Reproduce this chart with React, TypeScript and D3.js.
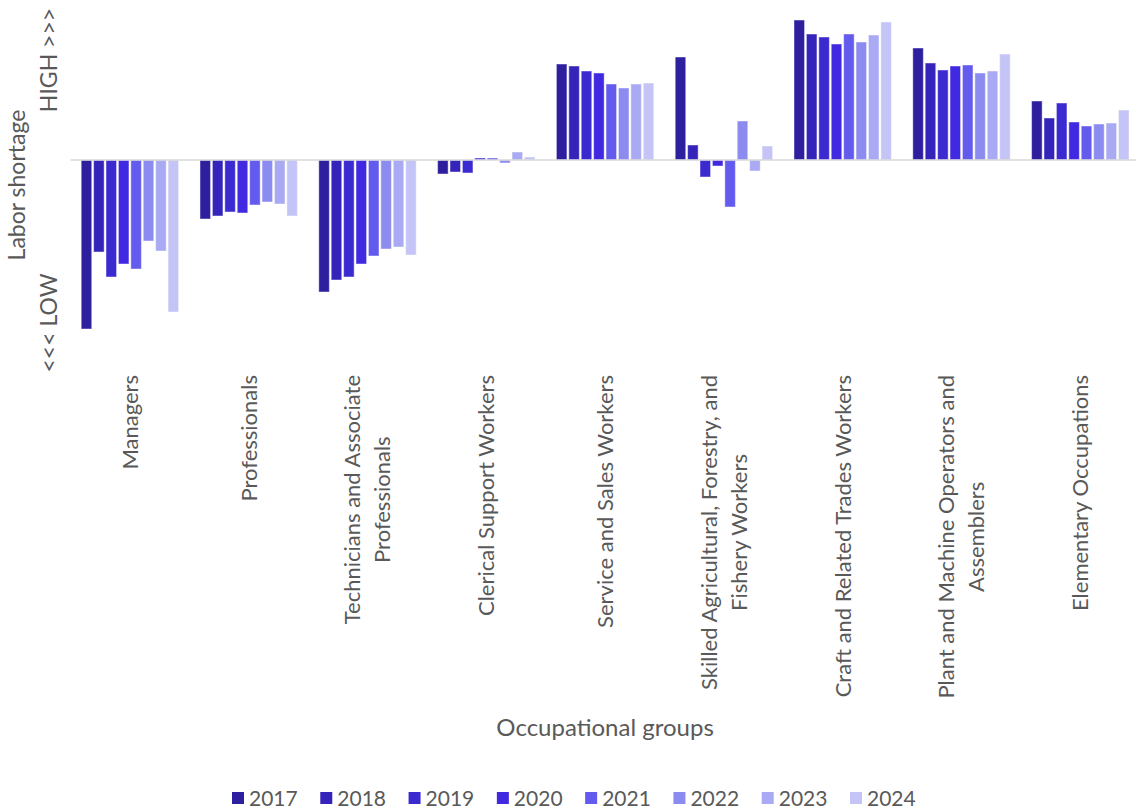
import React, { useEffect, useRef } from "react";
import * as d3 from "d3";

const categories = [
  "Managers",
  "Professionals",
  "Technicians and Associate|Professionals",
  "Clerical Support Workers",
  "Service and Sales Workers",
  "Skilled Agricultural, Forestry, and|Fishery Workers",
  "Craft and Related Trades Workers",
  "Plant and Machine Operators and|Assemblers",
  "Elementary Occupations",
];

const years = ["2017", "2018", "2019", "2020", "2021", "2022", "2023", "2024"];

const colors = [
  "#2e1f9f",
  "#3524ba",
  "#3b2ad0",
  "#4129e1",
  "#635bee",
  "#8c8cf0",
  "#a9aaf3",
  "#c4c5f6",
];

// relative labor shortage index, one row per occupational group, one value per year
const managers = [-1.69, -0.92, -1.17, -1.04, -1.09, -0.81, -0.91, -1.52];
const professionals = [-0.59, -0.56, -0.52, -0.53, -0.45, -0.42, -0.44, -0.56];
const technicians = [-1.32, -1.2, -1.17, -1.04, -0.96, -0.89, -0.87, -0.95];
const clerical = [-0.14, -0.12, -0.13, 0.02, 0.02, -0.03, 0.08, 0.03];
const serviceSales = [0.96, 0.94, 0.89, 0.87, 0.76, 0.72, 0.76, 0.77];
const skilledAgri = [1.03, 0.15, -0.17, -0.06, -0.47, 0.39, -0.11, 0.14];
const craftTrades = [1.4, 1.26, 1.23, 1.16, 1.26, 1.18, 1.25, 1.38];
const plantMachine = [1.12, 0.97, 0.9, 0.94, 0.95, 0.87, 0.89, 1.06];
const elementary = [0.59, 0.42, 0.57, 0.38, 0.34, 0.36, 0.37, 0.5];

const series = [
  managers,
  professionals,
  technicians,
  clerical,
  serviceSales,
  skilledAgri,
  craftTrades,
  plantMachine,
  elementary,
];

type Cell = { cat: string; year: string; value: number; i: number };

function LaborShortageChart() {
  const ref = useRef<SVGSVGElement | null>(null);
  const width = 1136;
  const height = 812;
  const marginLeft = 70.5;
  const plotRight = 1139.7;
  const plotTop = 10;
  const plotBottom = 340;
  const font = "Lato, 'Open Sans', sans-serif";
  const textColor = "#595959";

  useEffect(() => {
    const svg = d3.select(ref.current);
    svg.selectAll("*").remove();
    svg
      .attr("width", width)
      .attr("height", height)
      .attr("viewBox", [0, 0, width, height])
      .style("font-family", font);

    const x0 = d3
      .scaleBand<string>()
      .domain(categories)
      .range([marginLeft, plotRight])
      .padding(0);

    const gap = x0.bandwidth() * 0.09;
    const x1 = d3
      .scaleBand<string>()
      .domain(years)
      .range([gap, x0.bandwidth() - gap])
      .paddingInner(0.15)
      .paddingOuter(0);

    const y = d3.scaleLinear().domain([-1.8, 1.5]).range([plotBottom, plotTop]);

    const color = d3.scaleOrdinal<string, string>().domain(years).range(colors);

    const cells: Cell[] = categories.flatMap((cat, ci) =>
      years.map((year, i) => ({ cat, year, value: series[ci][i], i }))
    );

    // bars
    svg
      .append("g")
      .selectAll("rect")
      .data(cells)
      .join("rect")
      .attr("x", (d) => (x0(d.cat) as number) + (x1(d.year) as number))
      .attr("width", x1.bandwidth())
      .attr("y", (d) => y(Math.max(0, d.value)))
      .attr("height", (d) => Math.abs(y(d.value) - y(0)))
      .attr("fill", (d) => color(d.year))
      .attr("stroke", "#ffffff")
      .attr("stroke-opacity", 0.45)
      .attr("stroke-width", 1);

    // zero line
    svg
      .append("line")
      .attr("x1", marginLeft)
      .attr("x2", width)
      .attr("y1", y(0))
      .attr("y2", y(0))
      .attr("stroke", "#d9d9d9")
      .attr("stroke-width", 1.5);

    // category labels (rotated, wrapped on "|")
    const labelTop = 375;
    const lineGap = 30;
    const labels = svg
      .append("g")
      .attr("fill", textColor)
      .attr("font-size", 22)
      .selectAll("g")
      .data(categories)
      .join("g");

    labels.each(function (d) {
      const g = d3.select(this);
      const lines = d.split("|");
      const cx = (x0(d) as number) + x0.bandwidth() / 2;
      const texts = lines.map((line) =>
        g
          .append("text")
          .attr("text-anchor", "middle")
          .attr("dy", "0.36em")
          .text(line)
      );
      const maxLen = d3.max(texts, (t) => (t.node() as SVGTextElement).getComputedTextLength()) as number;
      const cy = labelTop + maxLen / 2;
      texts.forEach((t, k) => {
        const lx = cx + (k - (lines.length - 1) / 2) * lineGap;
        t.attr("transform", `translate(${lx},${cy}) rotate(-90)`);
      });
    });

    // x axis title
    svg
      .append("text")
      .attr("x", (marginLeft + plotRight) / 2)
      .attr("y", 736)
      .attr("text-anchor", "middle")
      .attr("fill", textColor)
      .attr("font-size", 24)
      .text("Occupational groups");

    // y axis title + HIGH / LOW markers
    const yTitles = [
      { text: "Labor shortage", x: 25, y: 185 },
      { text: "HIGH >>>", x: 57, y: 60 },
      { text: "<<< LOW", x: 57, y: 323 },
    ];
    svg
      .append("g")
      .selectAll("text")
      .data(yTitles)
      .join("text")
      .attr("transform", (d) => `translate(${d.x},${d.y}) rotate(-90)`)
      .attr("text-anchor", "middle")
      .attr("fill", textColor)
      .attr("font-size", 23)
      .text((d) => d.text);

    // legend
    const legendX = d3.scaleLinear().domain([0, years.length - 1]).range([232, 850]);
    const legend = svg
      .append("g")
      .selectAll("g")
      .data(years)
      .join("g")
      .attr("transform", (d, i) => `translate(${legendX(i)},798)`);
    legend
      .append("rect")
      .attr("x", 0)
      .attr("y", -6)
      .attr("width", 12)
      .attr("height", 12)
      .attr("fill", (d) => color(d));
    legend
      .append("text")
      .attr("x", 17)
      .attr("dy", "0.36em")
      .attr("fill", textColor)
      .attr("font-size", 21)
      .text((d) => d);
  }, []);

  return (
    <div style={{ position: "absolute", left: 0, top: 0 }}>
      <svg ref={ref}></svg>
    </div>
  );
}

export default function App() {
  return <LaborShortageChart />;
}
